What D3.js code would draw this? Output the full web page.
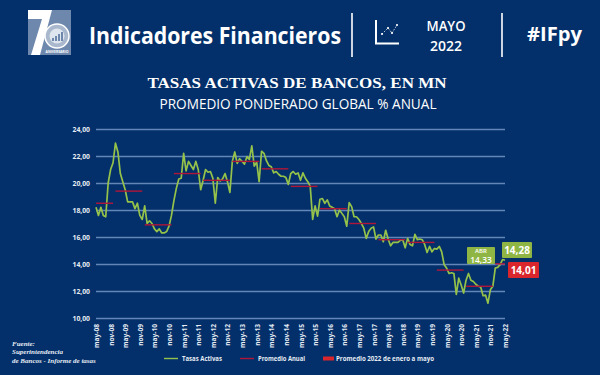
<!DOCTYPE html>
<html>
<head>
<meta charset="utf-8">
<script src="https://cdn.jsdelivr.net/npm/d3@7"></script>
<style>
  html, body { margin: 0; padding: 0; background: #03306a; }
  svg { display: block; }
</style>
</head>
<body>
<svg id="chart" width="600" height="375"></svg>
<script>
// Monthly values from may-08 to may-22
const tasasActivas = [
  18.2, 17.6, 18.2, 17.6, 17.5, 20.0, 21.0, 21.5, 22.95, 22.3, 20.7, 20.1, 19.5, 18.6, 18.6, 18.6, 18.1, 18.5,
  17.6, 17.3, 18.3, 17.0, 17.2, 17.0, 16.6, 16.4, 16.6, 16.3, 16.3, 16.4, 16.8, 17.6, 18.7, 19.6, 20.3, 20.35,
  22.2, 20.9, 21.6, 21.3, 21.0, 21.6, 21.0, 19.5, 20.2, 21.0, 20.8, 20.85, 20.35, 18.5, 20.4, 20.15, 20.3, 20.7,
  20.1, 19.3, 21.6, 22.3, 21.45, 21.8, 21.6, 21.4, 21.95, 21.75, 22.75, 21.25, 21.55, 20.1, 22.35, 22.2, 21.65,
  21.3, 21.2, 20.75, 20.85, 20.65, 20.5, 20.5, 20.4, 19.9, 20.7, 20.85, 20.65, 20.75, 20.2, 20.75, 20.35, 20.1,
  19.75, 17.3, 18.3, 17.55, 18.8, 18.85, 18.5, 18.75, 18.3, 18.2, 18.1, 17.5, 18.0, 17.75, 17.5, 16.8, 18.55,
  18.25, 17.5, 17.5, 17.3, 17.0, 16.65, 15.9, 16.4, 16.65, 16.75, 15.85, 16.15, 16.15, 15.65, 16.5, 15.85, 15.35,
  15.6, 15.6, 15.6, 15.75, 15.8, 15.2, 15.9, 15.45, 15.35, 16.2, 15.8, 15.85, 15.8, 15.45, 14.85, 15.3, 14.9,
  15.15, 15.1, 15.3, 14.9, 13.95, 13.7, 13.3, 13.35, 13.3, 11.75, 12.95, 12.45, 11.85, 12.8, 13.3, 12.8, 12.7,
  12.5, 12.35, 12.3, 11.65, 11.7, 11.1, 12.1, 12.35, 13.7, 13.75, 13.95, 14.33, 14.28
];
const promedioAnual = [18.5, 19.4, 16.9, 20.7, 20.2, 21.6, 21.05, 19.75, 18.1, 17.0, 15.8, 15.6, 13.55, 12.35, 14.01];
const promedioDesde = [0, 8, 20, 32, 44, 56, 68, 80, 92, 104, 116, 128, 140, 152, 164];
const promedioHasta = [7, 19, 31, 43, 55, 67, 79, 91, 103, 115, 127, 139, 151, 163, 168];
const yTicks = [10, 12, 14, 16, 18, 20, 22, 24];
const xLabels = ["may-08", "nov-08", "may-09", "nov-09", "may-10", "nov-10", "may-11", "nov-11", "may-12", "nov-12",
  "may-13", "nov-13", "may-14", "nov-14", "may-15", "nov-15", "may-16", "nov-16", "may-17", "nov-17", "may-18",
  "nov-18", "may-19", "nov-19", "may-20", "nov-20", "may-21", "nov-21", "may-22"];

const BG = "#03306a", GREEN = "#95c24a", RED = "#b0163a", GRID = "#6485b8", TXT = "#e6ecf4";
const SANS = "'Open Sans', sans-serif";

const svg = d3.select("#chart");
svg.append("rect").attr("width", 600).attr("height", 375).attr("fill", BG);

// Scales
const x = d3.scaleLinear().domain([0, 168]).range([96, 505]);
const y = d3.scaleLinear().domain([10, 24]).range([318, 129]);
const comma = d => d.toFixed(2).replace(".", ",");

// Grid and y labels
const axisY = d3.axisLeft(y).tickValues(yTicks).tickSize(0).tickPadding(6).tickFormat(comma);
svg.append("g")
  .attr("transform", "translate(96,0)")
  .call(axisY)
  .call(g => g.select(".domain").remove())
  .call(g => g.selectAll(".tick line").clone()
    .attr("stroke", GRID).attr("stroke-width", 1.5).attr("x1", 0).attr("x2", 409))
  .call(g => g.selectAll("text")
    .attr("fill", TXT).attr("font-family", SANS).attr("font-weight", 700).attr("font-size", 6.8));

// X labels
const axisX = d3.axisBottom(x)
  .tickValues(xLabels.map((d, i) => i * 6))
  .tickFormat((d, i) => xLabels[i])
  .tickSize(0);
svg.append("g")
  .attr("transform", "translate(0,318)")
  .call(axisX)
  .call(g => g.select(".domain").remove())
  .call(g => g.selectAll("text")
    .attr("fill", TXT).attr("font-family", SANS).attr("font-weight", 700).attr("font-size", 6.6)
    .attr("text-anchor", "end").attr("x", 0).attr("y", 0).attr("dy", 0)
    .attr("transform", "translate(2.5,6) rotate(-90)"));

// Series
const line = d3.line().x((d, i) => x(i)).y(d => y(d));
svg.append("path")
  .datum(tasasActivas)
  .attr("fill", "none")
  .attr("stroke", GREEN)
  .attr("stroke-width", 1.7)
  .attr("stroke-linejoin", "round")
  .attr("d", line);

svg.append("g").selectAll("line")
  .data(promedioAnual)
  .join("line")
  .attr("x1", (d, i) => x(promedioDesde[i]))
  .attr("x2", (d, i) => x(promedioHasta[i]))
  .attr("y1", d => y(d))
  .attr("y2", d => y(d))
  .attr("stroke", RED)
  .attr("stroke-width", 1.4);

// Callouts
function callout(left, top, w, h, fill, str, size) {
  svg.append("rect").attr("x", left).attr("y", top).attr("width", w).attr("height", h).attr("fill", fill).attr("rx", 1);
  svg.append("text").attr("x", left + w / 2).attr("y", top + h / 2 + size * 0.36)
    .attr("text-anchor", "middle").attr("fill", "#fff").attr("font-family", SANS).attr("font-weight", 700)
    .attr("font-size", size).text(str);
}
callout(502, 242, 30, 16, "#8fb644", "14,28", 10);
callout(508, 262, 31, 16, "#d8262c", "14,01", 10);

// The april callout holds two lines
svg.append("rect").attr("x", 467).attr("y", 247).attr("width", 28).attr("height", 17).attr("fill", "#8fb644").attr("rx", 1);
svg.append("text").attr("x", 481).attr("y", 252.5).attr("text-anchor", "middle").attr("fill", "#fff")
  .attr("font-family", SANS).attr("font-weight", 600).attr("font-size", 6).text("ABR");
svg.append("text").attr("x", 481).attr("y", 262.8).attr("text-anchor", "middle").attr("fill", "#fff")
  .attr("font-family", SANS).attr("font-weight", 600).attr("font-size", 8.4).text("14,33");

// Header
function text(tx, ty, str, size, weight, family, anchor, extra) {
  const t = svg.append("text").attr("x", tx).attr("y", ty).attr("font-size", size).attr("font-weight", weight)
    .attr("font-family", family).attr("fill", "#fff").attr("text-anchor", anchor || "start").text(str);
  if (extra) t.attr("textLength", extra).attr("lengthAdjust", "spacingAndGlyphs");
  return t;
}
text(89, 44, "Indicadores Financieros", 23.5, 700, SANS, "start", 252);
text(446, 31, "MAYO", 15, 600, SANS, "middle", 39);
text(446, 51, "2022", 15, 600, SANS, "middle", 32);
text(554.5, 41, "#IFpy", 19.5, 700, SANS, "middle", 55);
svg.append("line").attr("x1", 352).attr("x2", 352).attr("y1", 13).attr("y2", 57).attr("stroke", "#fff").attr("stroke-width", 1.6);
svg.append("line").attr("x1", 502).attr("x2", 502).attr("y1", 13).attr("y2", 57).attr("stroke", "#fff").attr("stroke-width", 1.6);

// Icon next to the date
svg.append("path").attr("d", "M376 20V43.5H399").attr("fill", "none").attr("stroke", "#fff").attr("stroke-width", 2);
svg.append("path").attr("d", "M382 34L388 28L392 33L397 25").attr("fill", "none").attr("stroke", "#fff")
  .attr("stroke-width", 0.8).attr("stroke-dasharray", "1.5 1.5");
[[382, 34], [388, 28], [392, 33], [397, 25]].forEach(p =>
  svg.append("circle").attr("cx", p[0]).attr("cy", p[1]).attr("r", 1.1).attr("fill", "#fff"));

// Logo
svg.append("rect").attr("x", 28).attr("y", 10).attr("width", 43).attr("height", 45).attr("fill", "#6d87ad");
svg.append("path").attr("d", "M28 10H52L40 55H31L42 19H28Z").attr("fill", "#fff");
svg.append("circle").attr("cx", 57).attr("cy", 36).attr("r", 12).attr("fill", "#a9b8cd").attr("stroke", "#fff").attr("stroke-width", 1.5);
svg.append("circle").attr("cx", 57).attr("cy", 36).attr("r", 7.5).attr("fill", "#dfe5ee");
[[52, 3], [55, 5], [58, 7], [61, 9]].forEach(b =>
  svg.append("rect").attr("x", b[0]).attr("y", 41 - b[1]).attr("width", 2).attr("height", b[1]).attr("fill", "#6d87ad"));
text(57, 53, "ANIVERSARIO", 3.4, 700, SANS, "middle");

// Titles
text(297, 88, "TASAS ACTIVAS DE BANCOS, EN MN", 15, 700, "'Liberation Serif', serif", "middle", 299);
text(298, 109, "PROMEDIO PONDERADO GLOBAL % ANUAL", 14.8, 400, SANS, "middle", 277);

// Legend
svg.append("line").attr("x1", 164).attr("x2", 178).attr("y1", 358.5).attr("y2", 358.5).attr("stroke", GREEN).attr("stroke-width", 1.4);
text(182, 361, "Tasas Activas", 7, 700, SANS, "start", 40).attr("fill", TXT);
svg.append("line").attr("x1", 240).attr("x2", 254).attr("y1", 358.5).attr("y2", 358.5).attr("stroke", RED).attr("stroke-width", 1.4);
text(258, 361, "Promedio Anual", 7, 700, SANS, "start", 47).attr("fill", TXT);
svg.append("rect").attr("x", 323).attr("y", 356.5).attr("width", 11).attr("height", 4).attr("fill", "#d8262c");
text(336, 361, "Promedio 2022 de enero a mayo", 7, 700, SANS, "start", 98).attr("fill", TXT);

// Source
const fuente = ["Fuente:", "Superintendencia", "de Bancos - Informe de tasas"];
fuente.forEach((t, i) => {
  text(12, 346 + i * 8.4, t, 7, 700, "'Liberation Serif', serif").attr("font-style", "italic").attr("fill", TXT);
});
</script>
</body>
</html>
